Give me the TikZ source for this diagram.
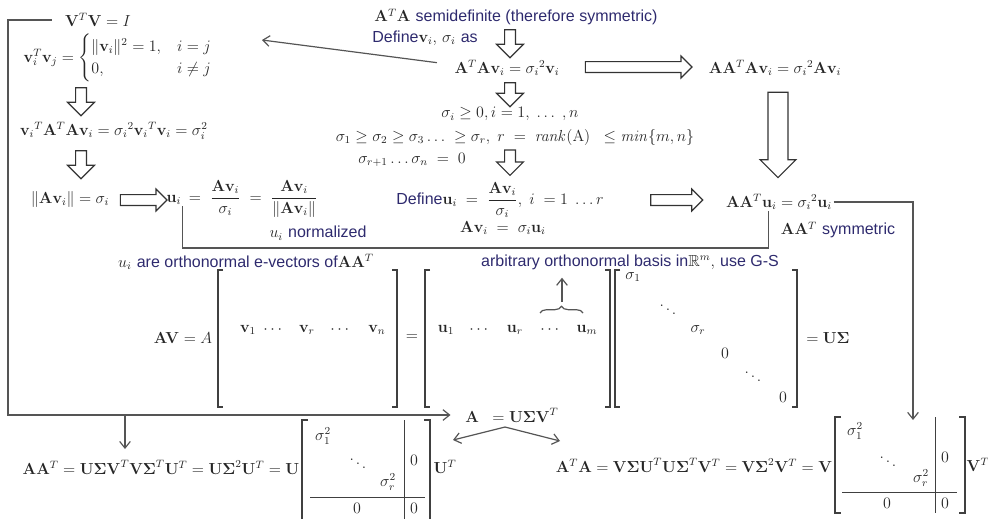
\documentclass[tikz,border=0pt]{standalone}
\usepackage{amsmath,amssymb}
\usepackage[no-math]{fontspec}
\setsansfont{Liberation Sans}
\usepackage{tikz}
\usetikzlibrary{positioning,arrows.meta,shapes.arrows,decorations.pathreplacing,calc}
\definecolor{navy700}{HTML}{2E2A6E}
\definecolor{gray600}{HTML}{555555}
\newcommand{\sftxt}[1]{{\sffamily\color{navy700}#1}}
\tikzset{
  every node/.style={font=\fontsize{12}{14}\selectfont, text=black!85, inner sep=1pt},
  hollow/.style={
    single arrow, draw=black!80, fill=white, line width=0.9pt,
    inner xsep=0pt, inner ysep=3.6pt, single arrow head extend=4.2pt
  },
  hollowdn/.style={hollow, rotate=-90, single arrow head extend=6pt},
  hollowbig/.style={hollow, rotate=-90, inner ysep=7pt, single arrow head extend=6pt},
  link/.style={draw=gray600, line width=0.9pt},
  arrow/.style={link, -{Straight Barb[length=5pt,width=8pt]}},
  brk/.style={draw=black!75, line width=0.8pt},
  divline/.style={draw=black!75, line width=0.7pt},
}
\begin{document}
\begin{tikzpicture}[x=0.75pt, y=-0.75pt]
  \useasboundingbox (0,0) rectangle (988,518);
  \clip (0,0) rectangle (988,518);

  % left column
  \node (vtv) at (98,20) {$\mathbf{V}^T\mathbf{V}=I$};
  \node (vv) at (118,58) {$\mathbf{v}_i^T\mathbf{v}_j=\begin{cases}\|\mathbf{v}_i\|^2=1, & i=j\\ 0, & i\neq j\end{cases}$};
  \node[hollowdn, minimum height=21pt] (h1) at (81,99) {};
  \node (va) at (114,131) {$\mathbf{v}_i{}^T\mathbf{A}^T\mathbf{A}\mathbf{v}_i=\sigma_i{}^2\mathbf{v}_i{}^T\mathbf{v}_i=\sigma_i^2$};
  \node[hollowdn, minimum height=21pt] (h2) at (81,162) {};
  \node (nav) at (70,199) {$\|\mathbf{A}\mathbf{v}_i\|=\sigma_i$};
  \node[hollow, minimum height=35pt] (h3) at (141,200) {};
  \node (ui) at (174,200) {$\mathbf{u}_i$};
  \node[anchor=base west] (uifr) at (ui.base east) {$\;=\;\dfrac{\mathbf{A}\mathbf{v}_i}{\sigma_i}\;=\;\dfrac{\mathbf{A}\mathbf{v}_i}{\|\mathbf{A}\mathbf{v}_i\|}$};
  \node (uin) at (318,233) {$u_i$ \sftxt{normalized}};

  % middle column
  \node (ata) at (516,17) {$\mathbf{A}^T\mathbf{A}$ \sftxt{semidefinite (therefore symmetric)}};
  \node (defv) at (425,38) {\sftxt{Define}$\mathbf{v}_i$, $\sigma_i$ \sftxt{as}};
  \node[hollowdn, minimum height=21pt] (h4) at (510,41) {};
  \node (atav) at (507,68) {$\mathbf{A}^T\mathbf{A}\mathbf{v}_i=\sigma_i{}^2\mathbf{v}_i$};
  \node[hollowdn, minimum height=18pt] (h5) at (510,92) {};
  \node (sig1) at (510,114) {$\sigma_i\geq 0, i=1,\;\ldots\;,n$};
  \node (sig2) at (515,137) {$\sigma_1\geq\sigma_2\geq\sigma_3\ldots\;\geq\sigma_r,\;r\;=\;\mathit{rank}(\mathrm{A})\;\;\leq\mathit{min}\{m,n\}$};
  \node (sig3) at (412,160) {$\sigma_{r+1}\ldots\sigma_n\;=\;0$};
  \node[hollowdn, minimum height=19pt] (h6) at (510,160) {};
  \node (defu) at (500,200) {\sftxt{Define}$\mathbf{u}_i\;=\;\dfrac{\mathbf{A}\mathbf{v}_i}{\sigma_i},\;i\;=1\;\ldots r$};
  \node (avs) at (503,228) {$\mathbf{A}\mathbf{v}_i\;=\;\sigma_i\mathbf{u}_i$};

  % right column
  \node[hollow, minimum height=80pt] (h7) at (636,67) {};
  \node (aatav) at (775,68) {$\mathbf{A}\mathbf{A}^T\mathbf{A}\mathbf{v}_i=\sigma_i{}^2\mathbf{A}\mathbf{v}_i$};
  \node[hollowbig, minimum height=64pt] (h8) at (778,130) {};
  \node[hollow, minimum height=39pt] (h9) at (674,200) {};
  \node (aatu) at (779,202) {$\mathbf{A}\mathbf{A}^T\mathbf{u}_i=\sigma_i{}^2\mathbf{u}_i$};
  \node (sym) at (838,230) {$\mathbf{A}\mathbf{A}^T$ \sftxt{symmetric}};

  % AV = U Sigma
  \node (onv) at (246,262) {$u_i$ \sftxt{are orthonormal e-vectors of}$\mathbf{A}\mathbf{A}^T$};
  \node (basis) at (630,262) {\sftxt{arbitrary orthonormal basis in}$\mathbb{R}^m$, \sftxt{use G-S}};
  \node (av) at (183,338) {$\mathbf{A}\mathbf{V}=A$};
  \node (eq1) at (412,338) {$=$};
  \node (us) at (828,338) {$=\mathbf{U\Sigma}$};
  \foreach \x/\d in {218/1, 397/-1, 425/1, 610/-1, 615/1, 797/-1}
    \draw[brk] ({\x+5*\d},270) -- (\x,270) -- (\x,407) -- ({\x+5*\d},407);
  \foreach \t/\x [count=\k] in {\mathbf{v}_1/248, \cdots/274, \mathbf{v}_r/307, \cdots/341, \mathbf{v}_n/377}
    \node (v\k) at (\x,330) {$\t$};
  \foreach \t/\x [count=\k] in {\mathbf{u}_1/446, \cdots/480, \mathbf{u}_r/515, \cdots/551, \mathbf{u}_m/587}
    \node (u\k) at (\x,330) {$\t$};
  \foreach \t/\x/\y [count=\k] in {\sigma_1/633/277, \ddots/668/306, \sigma_r/698/330, 0/725/353, \ddots/753/373, 0/783/397}
    \node (s\k) at (\x,\y) {$\t$};
  \coordinate (bl) at (540,313);
  \coordinate (br) at (583,313);
  \coordinate (btip) at (562,302);
  \draw[link, decorate, decoration={brace, amplitude=5pt}] (bl) -- (br);
  \draw[arrow, shorten >=5pt] (btip) -- (btip |- basis.south);

  % A = U Sigma V^T
  \node (asvd) at (512,415) {$\mathbf{A}\;\;=\mathbf{U\Sigma V}^T$};

  % A A^T
  \node (lefteq) at (161,467) {$\mathbf{A}\mathbf{A}^T=\mathbf{U\Sigma V}^T\mathbf{V\Sigma}^T\mathbf{U}^T=\mathbf{U\Sigma}^2\mathbf{U}^T=\mathbf{U}$};
  \draw[brk] (308,420) -- (302,420) -- (302,530);
  \draw[brk] (424,420) -- (430,420) -- (430,530);
  \draw[divline] (404,420) -- (404,530);
  \draw[divline] (310,497) -- (425,497);
  \foreach \t/\x/\y [count=\k] in {\sigma_1^2/323/436, \ddots/358/460, \sigma_r^2/388/482, 0/414/460, 0/357/508, 0/414/508}
    \node (l\k) at (\x,\y) {$\t$};
  \node (lut) at (445,467) {$\mathbf{U}^T$};

  % A^T A
  \node (righteq) at (694,465) {$\mathbf{A}^T\mathbf{A}=\mathbf{V\Sigma U}^T\mathbf{U\Sigma}^T\mathbf{V}^T=\mathbf{V\Sigma}^2\mathbf{V}^T=\mathbf{V}$};
  \draw[brk] (841,417) -- (835,417) -- (835,513) -- (841,513);
  \draw[brk] (959,417) -- (965,417) -- (965,513) -- (959,513);
  \draw[divline] (935,417) -- (935,513);
  \draw[divline] (842,492) -- (957,492);
  \foreach \t/\x/\y [count=\k] in {\sigma_1^2/855/431, \ddots/888/458, \sigma_r^2/921/478, 0/945/457, 0/887/503, 0/945/503}
    \node (r\k) at (\x,\y) {$\t$};
  \node (rvt) at (978,465) {$\mathbf{V}^T$};

  % connectors
  \coordinate (cl) at (8,415);
  \coordinate (cd) at (125,415);
  \coordinate (vvin) at (262,40);
  \coordinate (apex) at (505,427);
  \coordinate (lin) at (453,440);
  \coordinate (rin) at (560,441);
  \coordinate (ubend) at (183,248);
  \coordinate (rmin) at (913,420);
  \draw[arrow] ([xshift=-9pt]vtv.west) -| (cl) -- ([xshift=-10pt]asvd.west);
  \draw[arrow, shorten >=7pt] (cd) -- (cd |- lefteq.north);
  \draw[arrow] ([xshift=-12pt,yshift=4pt]atav.west) -- (vvin);
  \draw[arrow] (apex) -- (lin);
  \draw[arrow] (apex) -- (rin);
  \draw[link] (ui.south east) -- (ui.south east |- ubend) -| ([xshift=-8pt]aatu.south);
  \draw[arrow] (aatu.east) -| (rmin);
\end{tikzpicture}
\end{document}
